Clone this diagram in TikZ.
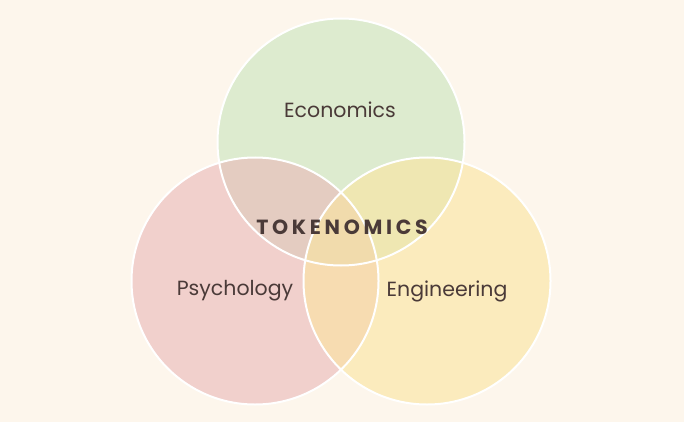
\documentclass[tikz,border=0pt]{standalone}
\usepackage{fontspec}
\setmainfont{Poppins}
\usepackage{tikz}
\usepackage{xcolor}

\definecolor{bg}{RGB}{253,246,236}
\definecolor{econ}{RGB}{200,228,189}
\definecolor{psych}{RGB}{233,184,184}
\definecolor{engin}{RGB}{251,229,159}
\definecolor{ink}{RGB}{74,58,56}

\begin{document}
\begin{tikzpicture}[x=1pt,y=-1pt]
    \fill[bg] (0,0) rectangle (684,422);
    \useasboundingbox (0,0) rectangle (684,422);

    \fill[econ,fill opacity=0.6] (341,142) circle (123.5);
    \fill[psych,fill opacity=0.6] (255,281) circle (123.5);
    \fill[engin,fill opacity=0.6] (427,281) circle (123.5);

    \foreach \c in {(341,142),(255,281),(427,281)}
        \draw[white,line width=2pt] \c circle (123.5);

    \node[ink,font=\fontsize{20.5}{24}\selectfont] (econ) at (340,110) {Economics};
    \node[ink,font=\fontsize{20.5}{24}\selectfont] (psych) at (235,291) {Psychology};
    \node[ink,font=\fontsize{20.5}{24}\selectfont] (engin) at (447,291) {Engineering};
    \node[ink,font=\fontsize{20.5}{24}\selectfont\bfseries\addfontfeature{LetterSpace=18}] (token) at (342,227) {TOKENOMICS};
\end{tikzpicture}
\end{document}
